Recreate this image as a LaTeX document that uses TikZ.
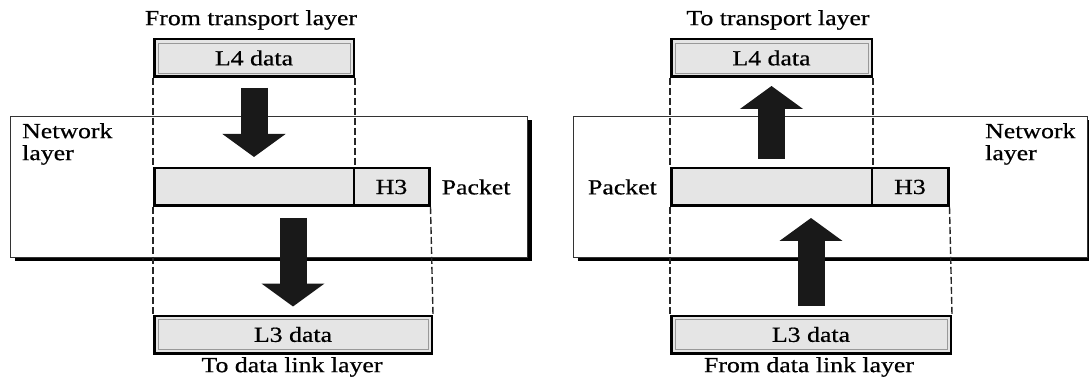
\documentclass[tikz,border=0pt]{standalone}
\usepackage{fontspec}
\setmainfont{Liberation Serif}[FakeStretch=1.2, FakeBold=0.6]
\usetikzlibrary{positioning,arrows.meta,shadows}
\newcommand{\lbl}{\fontsize{21.5}{22}\selectfont}
\tikzset{layer/.style={rectangle, draw=black!80, line width=1.2pt, fill=white, drop shadow={shadow xshift=4pt, shadow yshift=-4pt, fill=black, opacity=1}}}
\tikzset{datbox/.style={rectangle, draw, line width=2.5pt, fill=black!10, inner sep=+0pt, minimum height=37.5pt, font=\lbl}}
\tikzset{inframe/.style={draw=black!40, line width=0.8pt}}
\tikzset{guide/.style={draw=black!85, line width=1.4pt, dash pattern=on 7pt off 3pt}}
\tikzset{flow/.style={line width=27pt, black!90, -{Triangle[width=62pt,length=23pt]}}}
\tikzset{caption/.style={font=\lbl, inner sep=+0pt}}

\begin{document}
\begin{tikzpicture}[x=1pt,y=-1pt]
    \useasboundingbox (0,0) rectangle (1089,379);

    % network layer, both sides
    \node[layer, minimum width=517pt, minimum height=141pt] (netin) at (269,187) {};
    \node[layer, minimum width=514pt, minimum height=141pt] (netout) at (830.5,187) {};
    \node[caption, align=left, anchor=north west] (netinlbl) at (22,123) {Network\\layer};
    \node[caption, align=left, anchor=north west] (netoutlbl) at (985,123) {Network\\layer};

    % sending side
    \node[datbox, minimum width=199.5pt] (l4in) at (254,58) {L4 data};
    \node[datbox, minimum width=199.5pt] (pin) at (254,187) {};
    \node[datbox, minimum width=75.5pt, right=-2.5pt of pin] (h3in) {H3};
    \node[datbox, minimum width=277.5pt] (l3in) at (293,334.5) {L3 data};
    \node[caption] (fromtr) at (251,20) {From transport layer};
    \node[caption] (todl) at (292,367) {To data link layer};
    \node[caption, right=11pt of h3in] (pktin) {Packet};

    % receiving side
    \node[datbox, minimum width=200.5pt] (l4out) at (771.5,58) {L4 data};
    \node[datbox, minimum width=200.5pt] (pout) at (771.5,187) {};
    \node[datbox, minimum width=76.5pt, right=-2.5pt of pout] (h3out) {H3};
    \node[datbox, minimum width=279.5pt] (l3out) at (811,334.5) {L3 data};
    \node[caption] (totr) at (778,20) {To transport layer};
    \node[caption] (fromdl) at (809,367) {From data link layer};
    \node[caption, left=13pt of pout] (pktout) {Packet};

    \foreach \b in {l4in,l3in,l4out,l3out} {
            \draw[inframe] ([shift={(5pt,-5pt)}]\b.north west) rectangle ([shift={(-5pt,5pt)}]\b.south east);
        }

    \draw[guide] (l4in.south west) -- (pin.north west);
    \draw[guide] (pin.south west) -- (l3in.north west);
    \draw[guide] (l4in.south east) -- (pin.north east);
    \draw[guide] (h3in.south east) -- (l3in.north east);

    \draw[guide] (l4out.south west) -- (pout.north west);
    \draw[guide] (pout.south west) -- (l3out.north west);
    \draw[guide] (l4out.south east) -- (pout.north east);
    \draw[guide] (h3out.south east) -- (l3out.north east);

    \draw[flow, shorten <=10pt, shorten >=10pt] (l4in.south) -- (l4in.south |- pin.north);
    \draw[flow, shorten <=11pt, shorten >=8pt] (pin.south -| l3in.north) -- (l3in.north);
    \draw[flow, shorten <=8pt, shorten >=8pt] (l4out.south |- pout.north) -- (l4out.south);
    \draw[flow, shorten <=9pt, shorten >=11pt] (l3out.north) -- (l3out.north |- pout.south);

\end{tikzpicture}
\end{document}
